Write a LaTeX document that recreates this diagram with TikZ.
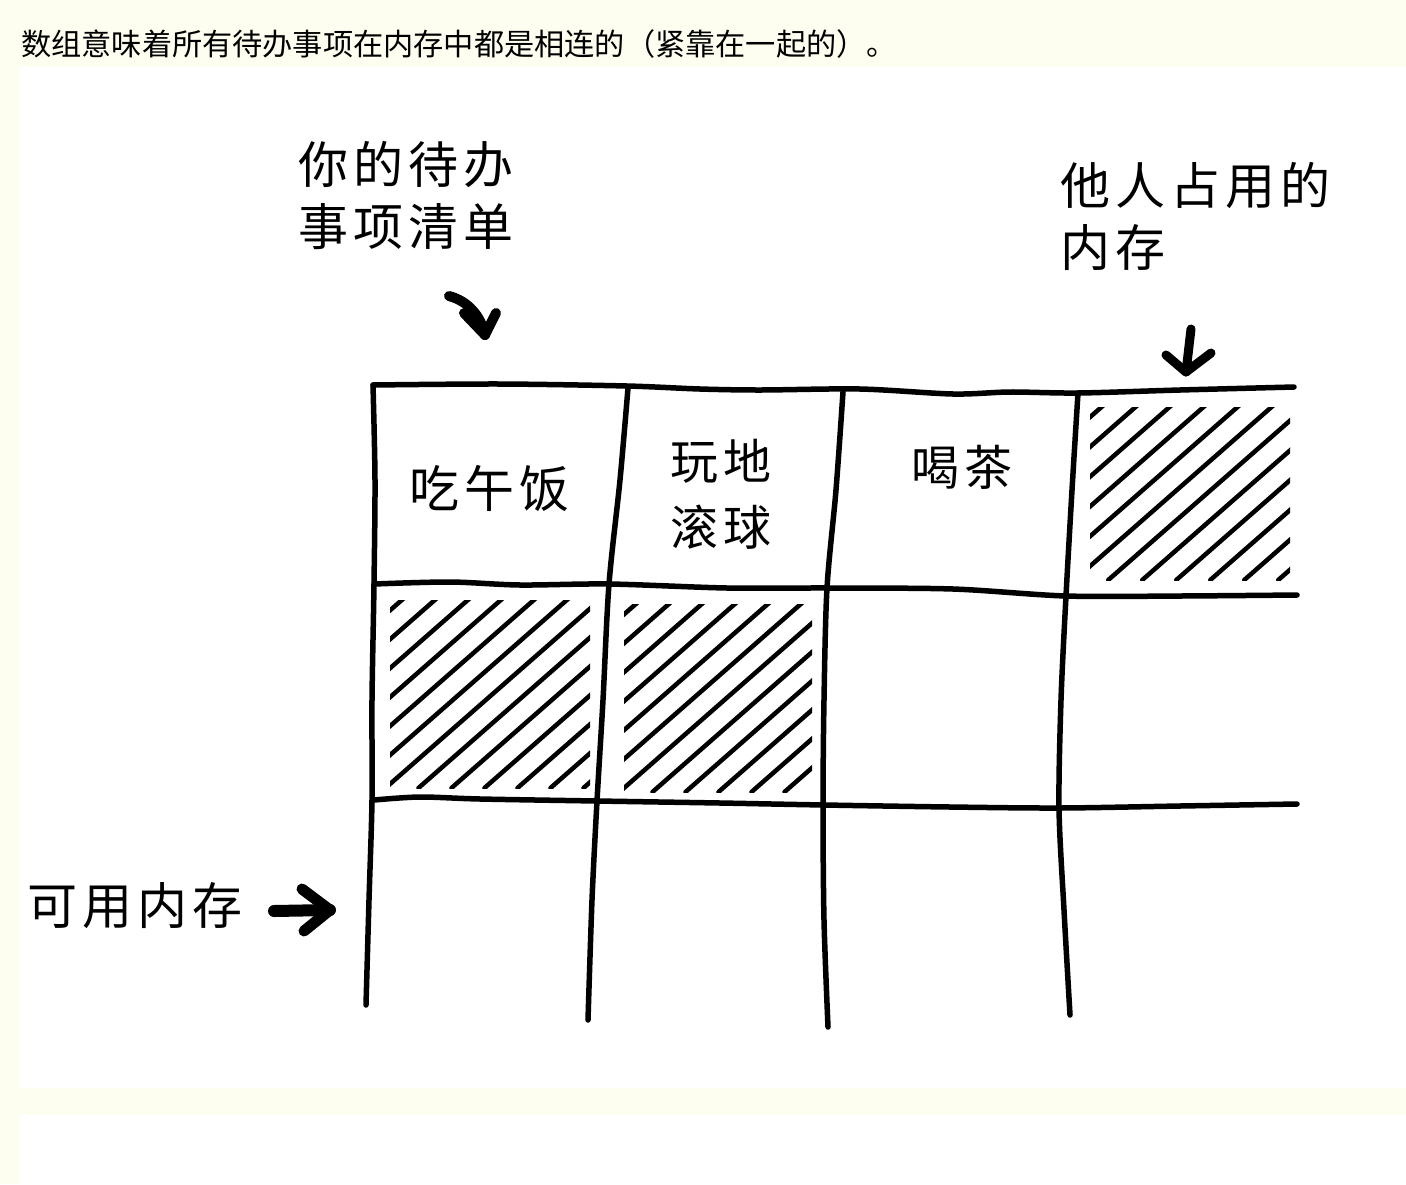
\documentclass[tikz,border=0pt]{standalone}
\usepackage{fontspec}
\newfontfamily\cjk{Noto Sans CJK SC}
\newfontfamily\cjkhand[LetterSpace=10]{Noto Sans CJK SC}
\definecolor{paper}{RGB}{254,254,240}

% hatch one cell: clip box x0 y0 x1 y1, horizontal step between strokes
\newcommand{\hatchbox}[5]{%
  \begin{scope}
    \clip (#1,#2) rectangle (#3,#4);
    \pgfmathsetmacro{\hstart}{#1-(#4-#2)*1.12+8}
    \pgfmathsetmacro{\hnext}{\hstart+#5}
    \foreach \c in {\hstart,\hnext,...,#3}
      \draw[hatchline] (\c,#4) -- ++(260,-228);
  \end{scope}}

\begin{document}
\begin{tikzpicture}[x=1pt,y=-1pt,
  ink/.style={line width=5.5pt, line cap=round, line join=round},
  hatchline/.style={line width=4.5pt, line cap=round},
  hand/.style={font=\cjkhand\fontsize{50}{62}\selectfont, inner sep=0pt, align=left},
  fatarrow/.style={line width=10pt, line cap=round, line join=round}]

% page and panels
\fill[paper] (0,0) rectangle (1406,1184);
\fill[white] (20,67) rectangle (1406,1088);
\fill[white] (20,1115) rectangle (1406,1184);
\useasboundingbox (0,0) rectangle (1406,1184);

% caption
\node[anchor=west, font=\cjk\fontsize{30.2}{34}\selectfont, inner sep=0pt] (caption) at (21,44)
  {数组意味着所有待办事项在内存中都是相连的（紧靠在一起的）。};

% hatched (occupied) cells
\hatchbox{1090}{407}{1290}{580}{34}
\hatchbox{390}{600}{590}{788}{33}
\hatchbox{624}{604}{812}{792}{33}

% hand-drawn grid
\draw[ink] plot[smooth,tension=0.5] coordinates {(373,385) (500,384) (627,386) (700,389) (760,390) (860,389) (953,394) (1010,392) (1078,393) (1180,390) (1294,387)};
\draw[ink] plot[smooth,tension=0.5] coordinates {(374,584) (450,582) (520,585) (609,584) (727,588) (827,588) (953,589) (1066,596) (1180,596) (1297,595)};
\draw[ink] plot[smooth,tension=0.5] coordinates {(374,800) (420,797) (480,799) (597,801) (720,803) (824,805) (950,807) (1060,808) (1180,806) (1297,804)};
\draw[ink] plot[smooth,tension=0.5] coordinates {(373,385) (375,480) (374,584) (372,700) (372,800) (369,900) (366,1005)};
\draw[ink] plot[smooth,tension=0.5] coordinates {(628,388) (620,480) (609,584) (603,700) (597,801) (592,900) (588,1020)};
\draw[ink] plot[smooth,tension=0.5] coordinates {(843,392) (836,490) (827,588) (824,700) (823,805) (824,920) (828,1027)};
\draw[ink] plot[smooth,tension=0.5] coordinates {(1078,393) (1072,490) (1066,596) (1061,700) (1059,808) (1064,910) (1070,1015)};

% cell labels
\node[hand] (lunch) at (489,488) {吃午饭};
\node[hand, font=\cjkhand\fontsize{48}{66}\selectfont, align=center] (ball) at (721,494) {玩地\\滚球};
\node[hand, font=\cjkhand\fontsize{48}{58}\selectfont] (tea) at (962,467) {喝茶};

% annotations
\node[hand, anchor=north west] (todo) at (298,141) {你的待办\\事项清单};
\node[hand, anchor=north west] (others) at (1060,162) {他人占用的\\内存};
\node[hand] (free) at (135,906) {可用内存};

% arrows
\coordinate (todoA) at (449,296);
\coordinate (todoB) at (485,335);
\draw[fatarrow] (todoA) .. controls (468,301) and (481,316) .. (todoB);
\draw[fatarrow] (464,313) -- (todoB) -- (496,313);

\coordinate (othA) at (1191,329);
\coordinate (othB) at (1186,372);
\draw[fatarrow, line width=9pt] (othA) -- (othB);
\draw[fatarrow, line width=9pt] (1166,355) -- (othB) -- (1211,353);

\coordinate (freeA) at (274,911);
\coordinate (freeB) at (330,910);
\draw[fatarrow, line width=12pt] (freeA) -- (freeB);
\draw[fatarrow, line width=11pt] (302,889) -- (freeB) -- (304,931);

\end{tikzpicture}
\end{document}
